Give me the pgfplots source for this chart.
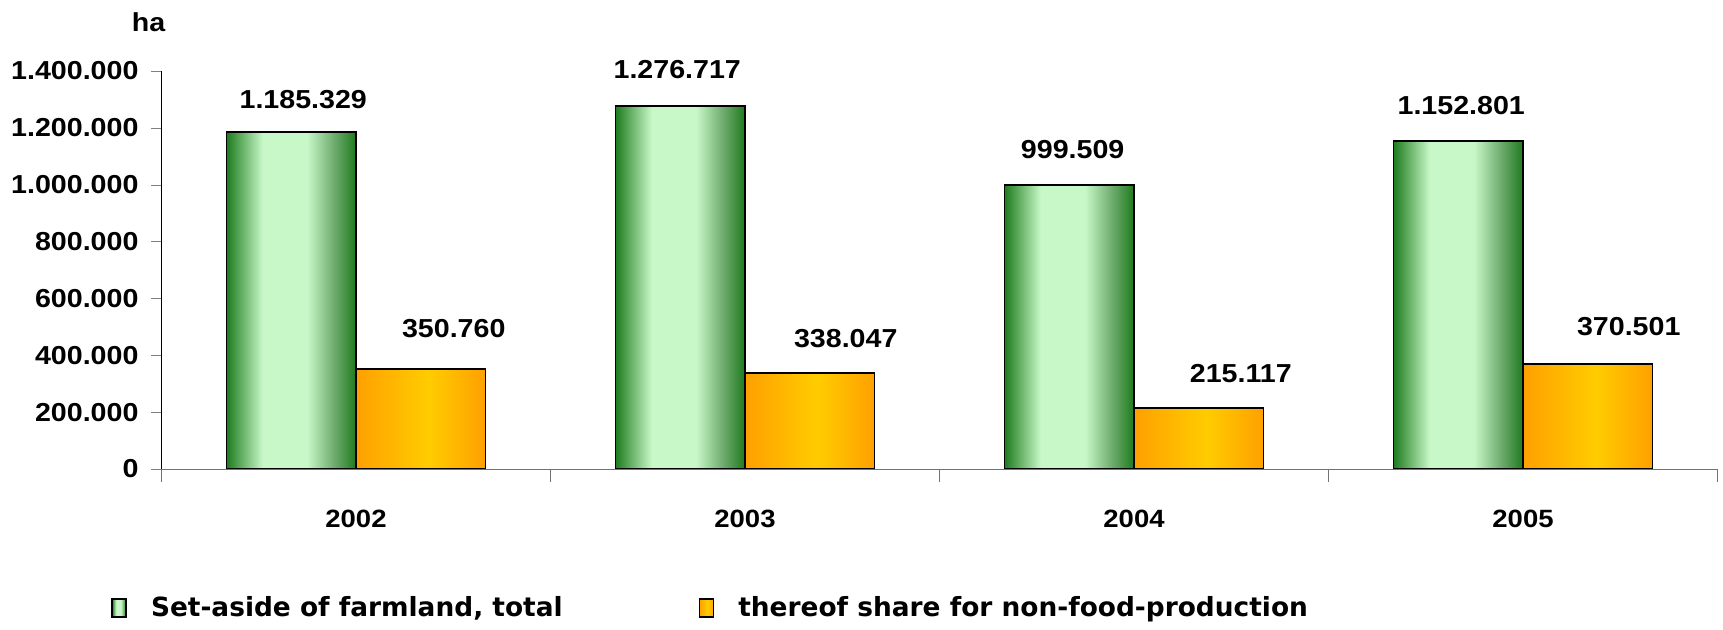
\documentclass[border=0pt]{standalone}
\usepackage{pgfplots}
\pgfplotsset{compat=1.18}
\usepackage{fontspec}
\setmainfont{Liberation Sans}[FakeStretch=1.1]
\newfontfamily\legfont{DejaVu Sans}

\definecolor{gdark}{HTML}{1E7B1E}
\definecolor{glight}{HTML}{C8F8C8}
\definecolor{gmid}{HTML}{6AA86A}
\definecolor{odark}{HTML}{FFA000}
\definecolor{olight}{HTML}{FFCC00}
\pgfdeclarehorizontalshading{greenbar}{100bp}{color(0bp)=(gdark); color(25bp)=(gdark); color(39bp)=(glight); color(56bp)=(glight); color(67bp)=(gmid); color(75bp)=(gdark); color(100bp)=(gdark)}
\pgfdeclarehorizontalshading{orangebar}{100bp}{color(0bp)=(odark); color(25bp)=(odark); color(53bp)=(olight); color(75bp)=(odark); color(100bp)=(odark)}

\pgfplotsset{
  total/.style={draw=black, line width=0.9pt, shading=greenbar, bar shift=-0.1665},
  nonfood/.style={draw=black, line width=0.9pt, shading=orangebar, bar shift=0.1665},
  % position of the value label relative to the top of its bar
  lbl/.style 2 args={every node near coord/.append style={xshift=#1pt, yshift=#2pt}},
}

\begin{document}
\begin{tikzpicture}[x=1pt,y=1pt]
\useasboundingbox (0,0) rectangle (861.5,315);
\begin{axis}[
  at={(80.75pt,80.5pt)}, anchor=south west,
  scale only axis, width=778pt, height=199pt,
  ybar, bar width=0.333,
  xmin=-0.5, xmax=3.5, ymin=0, ymax=1400000,
  axis x line*=bottom, axis y line*=left,
  x axis line style={black!55},
  y axis line style={black},
  tick align=outside,
  xtick={0,1,2,3}, xticklabels={2002,2003,2004,2005},
  major x tick style={draw=none},
  extra x ticks={-0.5,0.5,1.5,2.5,3.5},
  extra x tick labels={},
  extra x tick style={major x tick style={draw=black!55}, major tick length=6.5pt},
  ytick={0,200000,...,1400000},
  major tick length=5pt,
  scaled y ticks=false,
  /pgf/number format/.cd, fixed, precision=0, 1000 sep={.}, assume math mode=true,
  /pgfplots/.cd,
  xticklabel style={font=\fontsize{12.5}{15}\selectfont\bfseries, yshift=-12pt},
  yticklabel style={font=\fontsize{13}{15}\selectfont\bfseries, xshift=-3pt},
  every axis y label/.style={at={(axis description cs:0,1)}, anchor=center, xshift=-6.5pt, yshift=24.5pt, font=\fontsize{13}{15}\selectfont\bfseries},
  ylabel={ha},
  nodes near coords={\pgfmathprintnumber[fixed,precision=0,1000 sep={.}]{\pgfplotspointmeta}},
  every node near coord/.append style={font=\fontsize{13}{15}\selectfont\bfseries, anchor=center},
  legend style={at={(0,0)}, anchor=west, xshift=-28.25pt, yshift=-69.5pt, draw=none, fill=none,
    legend columns=2, font=\fontsize{13.2}{15}\selectfont\bfseries\legfont,
    /tikz/every odd column/.append style={column sep=10pt},
    /tikz/every even column/.append style={column sep=66pt}},
  legend image code/.code={\draw[#1, line width=0.8pt] (0pt,-4.5pt) rectangle (7pt,4.5pt);},
  legend cell align=left,
]
% 2002
\addplot[total, lbl={6}{16}] coordinates {(0,1185329)};
\addlegendentry{Set-aside of farmland, total}
\addplot[nonfood, lbl={16.5}{20.5}] coordinates {(0,350760)};
\addlegendentry{thereof share for non-food-production}
% 2003
\addplot[total, lbl={-1.5}{18}, forget plot] coordinates {(1,1276717)};
\addplot[nonfood, lbl={18}{17}, forget plot] coordinates {(1,338047)};
% 2004
\addplot[total, lbl={1.7}{17.5}, forget plot] coordinates {(2,999509)};
\addplot[nonfood, lbl={21}{17}, forget plot] coordinates {(2,215117)};
% 2005
\addplot[total, lbl={1.5}{18}, forget plot] coordinates {(3,1152801)};
\addplot[nonfood, lbl={20.5}{18.5}, forget plot] coordinates {(3,370501)};
\end{axis}
\end{tikzpicture}
\end{document}
